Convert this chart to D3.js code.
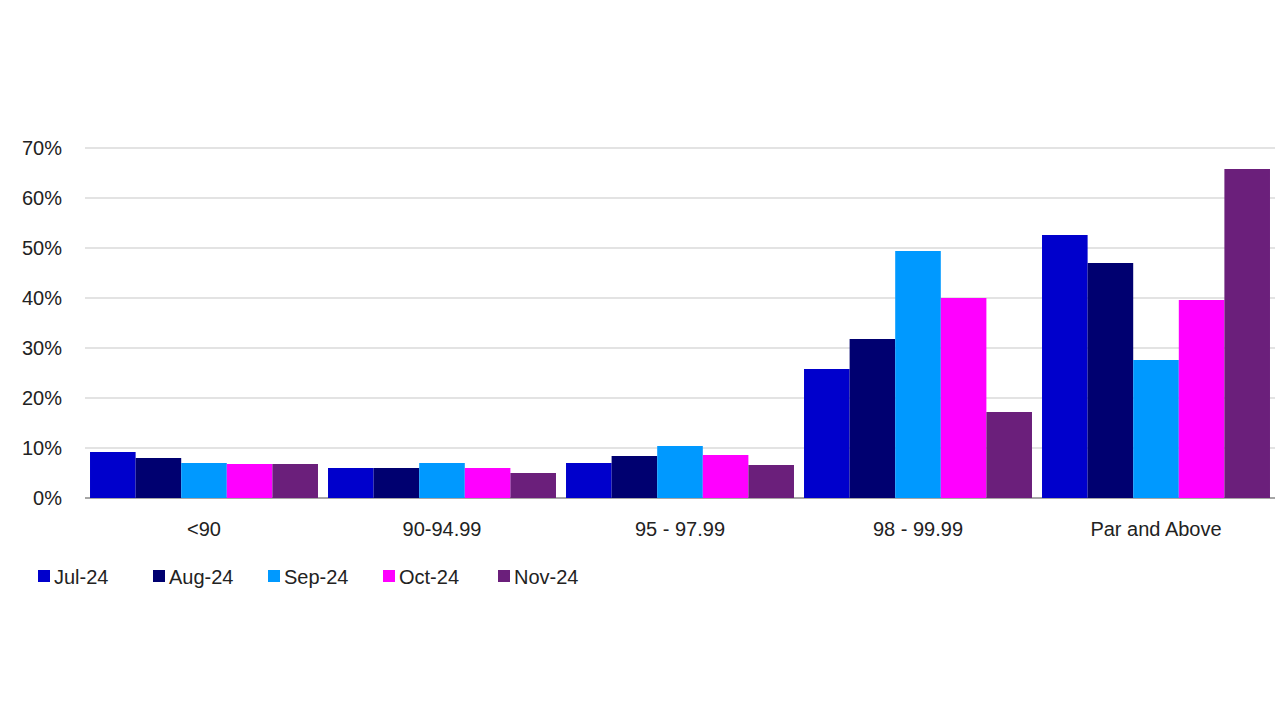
<!DOCTYPE html>
<html><head><meta charset="utf-8">
<script src="https://cdn.jsdelivr.net/npm/d3@7"></script>
<style>body{margin:0;background:#fff}text{font-family:Arial,"Liberation Sans",sans-serif}</style>
</head><body><svg id="c" width="1280" height="720"></svg>
<script>
const categories = ["<90","90-94.99","95 - 97.99","98 - 99.99","Par and Above"];
const seriesNames = ["Jul-24","Aug-24","Sep-24","Oct-24","Nov-24"];
const colors = ["#0000CC","#000070","#0099FF","#FF00FF","#6B1F7B"];
const jul = [9.2,6,7,25.8,52.6];
const aug = [8,6,8.4,31.8,47];
const sep = [7,7,10.4,49.4,27.6];
const oct = [6.8,6,8.6,40,39.6];
const nov = [6.8,5,6.6,17.2,65.8];
const series = [jul,aug,sep,oct,nov];
const yTicks = [0,10,20,30,40,50,60,70];

(function(){
const svg = d3.select("#c");
const pLeft=85,pRight=1275,pTop=148,pBottom=498;
const x = d3.scaleBand().domain(categories).range([pLeft,pRight]).paddingInner(0).paddingOuter(0);
const x1 = d3.scaleBand().domain(seriesNames).range([0,x.bandwidth()]).paddingInner(0).paddingOuter(0.11);
const y = d3.scaleLinear().domain([0,70]).range([pBottom,pTop]);

const grid = svg.append("g");
yTicks.forEach(t=>{
  grid.append("line").attr("x1",pLeft).attr("x2",pRight).attr("y1",y(t)).attr("y2",y(t))
    .attr("stroke",t===0?"#888":"#c8c8c8").attr("stroke-width",t===0?1.5:1.2);
  grid.append("text").attr("x",62).attr("y",y(t)+7).attr("text-anchor","end")
    .attr("font-size",20).attr("fill","#222").text(t+"%");
});
categories.forEach((c,i)=>{
  series.forEach((s,j)=>{
    svg.append("rect").attr("x",x(c)+x1(seriesNames[j])).attr("width",x1.bandwidth())
      .attr("y",y(s[i])).attr("height",y(0)-y(s[i])).attr("fill",colors[j]);
  });
  svg.append("text").attr("x",x(c)+x.bandwidth()/2).attr("y",536).attr("text-anchor","middle")
    .attr("font-size",20).attr("fill","#222").text(c);
});
const lx=[38,153,268,383,498];
seriesNames.forEach((n,j)=>{
  svg.append("rect").attr("x",lx[j]).attr("y",570).attr("width",12).attr("height",12).attr("fill",colors[j]);
  svg.append("text").attr("x",lx[j]+16).attr("y",584).attr("font-size",20).attr("fill","#222").text(n);
});
})();
</script></body></html>
